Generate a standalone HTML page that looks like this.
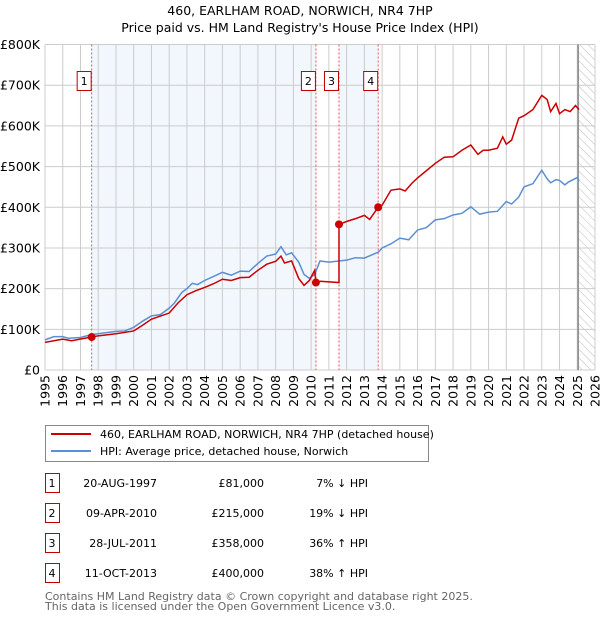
<!DOCTYPE html>
<html><head><meta charset="utf-8"><style>
body{margin:0;background:#fff;font-family:"DejaVu Sans","Liberation Sans",sans-serif;}
svg text{font-family:"DejaVu Sans","Liberation Sans",sans-serif;}
</style></head><body>
<svg width="600" height="620" viewBox="0 0 600 620">
<defs><pattern id="hatch" width="6" height="6" patternUnits="userSpaceOnUse" patternTransform="rotate(-45)"><line x1="0" y1="0" x2="0" y2="6" stroke="#bbb" stroke-width="1"/></pattern></defs>
<text x="300" y="15" text-anchor="middle" font-size="12.5">460, EARLHAM ROAD, NORWICH, NR4 7HP</text>
<text x="300" y="32" text-anchor="middle" font-size="12.5">Price paid vs. HM Land Registry's House Price Index (HPI)</text>
<g id="plot"></g>
<g>
<rect x="45.5" y="425.5" width="383" height="36" fill="#fff" stroke="#888"/>
<line x1="51" y1="434" x2="91" y2="434" stroke="#cc0000" stroke-width="2"/>
<text x="100" y="438" font-size="11">460, EARLHAM ROAD, NORWICH, NR4 7HP (detached house)</text>
<line x1="51" y1="451" x2="91" y2="451" stroke="#5b8fd4" stroke-width="2"/>
<text x="100" y="455" font-size="11">HPI: Average price, detached house, Norwich</text>
</g>
<g id="table" font-size="11"></g>
<text x="45" y="600" font-size="11" fill="#666">Contains HM Land Registry data © Crown copyright and database right 2025.</text>
<text x="45" y="610" font-size="11" fill="#666">This data is licensed under the Open Government Licence v3.0.</text>
</svg>
<script>
const hpiYears=[1995,1995.5,1996,1996.3,1997,1997.6,1998,1999,1999.5,2000,2000.5,2001,2001.5,2002,2002.3,2002.7,2003,2003.3,2003.6,2004,2004.5,2005,2005.5,2006,2006.5,2007,2007.5,2008,2008.3,2008.6,2008.9,2009.3,2009.6,2009.9,2010.2,2010.5,2011,2012,2012.5,2013,2013.8,2014,2014.5,2015,2015.5,2016,2016.5,2017,2017.5,2018,2018.5,2019,2019.5,2020,2020.5,2021,2021.3,2021.7,2022,2022.5,2023,2023.3,2023.5,2023.8,2024,2024.3,2024.5,2025,2025.1];
const hpiValues=[74,82,82,78,80,87,89,95,96,105,120,133,136,152,165,190,200,213,210,220,230,240,233,243,242,262,280,285,303,283,288,265,235,225,235,268,265,270,276,275,290,300,310,324,320,344,350,369,372,381,385,401,383,388,390,414,408,425,450,458,491,470,460,468,466,455,462,473,465];
const redYears=[1995,1996,1996.5,1997.63,1998,1999,2000,2000.5,2001,2002,2002.5,2003,2003.5,2004,2004.5,2005,2005.5,2006,2006.5,2007,2007.5,2008,2008.3,2008.5,2008.9,2009.3,2009.6,2009.9,2010.2,2010.27,2010.5,2011.57,2011.57,2012,2012.5,2013,2013.3,2013.78,2014,2014.5,2015,2015.3,2015.7,2016,2016.5,2017,2017.5,2018,2018.5,2019,2019.4,2019.7,2020,2020.5,2020.8,2021,2021.3,2021.7,2022,2022.5,2023,2023.3,2023.5,2023.8,2024,2024.3,2024.6,2024.9,2025.1];
const redValues=[68,76,72,81,84,89,96,110,125,140,165,185,195,203,212,223,220,227,228,245,260,267,280,263,268,225,208,220,245,215,218,215,358,365,372,380,370,400,405,442,445,440,460,472,490,508,523,524,540,553,530,540,540,545,573,555,565,619,625,640,675,665,635,655,630,640,635,650,640];
const saleLabels=["1","2","3","4"];
const saleYears=[1997.63,2010.27,2011.57,2013.78];
const salePrices=[81,215,358,400];
const saleDates=["20-AUG-1997","09-APR-2010","28-JUL-2011","11-OCT-2013"];
const salePriceText=["£81,000","£215,000","£358,000","£400,000"];
const saleHpiText=["7% ↓ HPI","19% ↓ HPI","36% ↑ HPI","38% ↑ HPI"];
const yTicks=[0,100,200,300,400,500,600,700,800];
const yTickLabels=["£0","£100K","£200K","£300K","£400K","£500K","£600K","£700K","£800K"];
const xTicks=[1995,1996,1997,1998,1999,2000,2001,2002,2003,2004,2005,2006,2007,2008,2009,2010,2011,2012,2013,2014,2015,2016,2017,2018,2019,2020,2021,2022,2023,2024,2025,2026];
const forecastStart=2025.05;

const X0=45,X1=595,Y0=370,Y1=44.5;
const x=v=>X0+(v-1995)/(2026-1995)*(X1-X0);
const y=v=>Y0-v/800*(Y0-Y1);
const NS="http://www.w3.org/2000/svg";
function mk(tag,attrs,parent){const e=document.createElementNS(NS,tag);for(const k in attrs)e.setAttribute(k,attrs[k]);parent.appendChild(e);return e;}
const g=document.getElementById('plot');
// bands
let b=mk('rect',{x:x(saleYears[0]),y:Y1,width:x(saleYears[1])-x(saleYears[0]),height:Y0-Y1,fill:'#eef3fc',opacity:0.75},g);


b=mk('rect',{x:x(saleYears[2]),y:Y1,width:x(saleYears[3])-x(saleYears[2]),height:Y0-Y1,fill:'#eef3fc',opacity:0.75},g);


let h=mk('rect',{x:x(forecastStart),y:Y1,width:X1-x(forecastStart),height:Y0-Y1,fill:'url(#hatch)'},g);


// grid
xTicks.forEach(t=>{const l=mk('line',{x1:x(t),x2:x(t),y1:Y1,y2:Y0,stroke:'#ccc','stroke-width':1},g);


const tx=mk('text',{x:0,y:0,'font-size':12.5,'text-anchor':'end',transform:`translate(${x(t)+4.5},375) rotate(-90)`},g);tx.textContent=t;

});
yTicks.forEach((t,i)=>{const l=mk('line',{x1:X0,x2:X1,y1:y(t),y2:y(t),stroke:'#ccc','stroke-width':1},g);


const tx=mk('text',{x:40,y:y(t)+4.5,'font-size':12.5,'text-anchor':'end'},g);tx.textContent=yTickLabels[i];

});
const fl=mk('line',{x1:x(forecastStart),x2:x(forecastStart),y1:Y1,y2:Y0,stroke:'#888','stroke-width':1.5},g);


// sale vlines and labels
saleYears.forEach((s,i)=>{const l=mk('line',{x1:x(s),x2:x(s),y1:Y1,y2:Y0,stroke:'#e05555','stroke-dasharray':'2,2','stroke-width':1},g);


const r=mk('rect',{x:x(s)-14.5,y:71.5,width:14,height:19,fill:'#fff',stroke:'#c00000'},g);


const t=mk('text',{x:x(s)-7.5,y:85,'font-size':11,'text-anchor':'middle'},g);t.textContent=saleLabels[i];

});
// lines
const hp=mk('polyline',{points:hpiYears.map((v,i)=>x(v)+','+y(hpiValues[i])).join(' '),fill:'none',stroke:'#5b8fd4','stroke-width':1.5},g);


const rp=mk('polyline',{points:redYears.map((v,i)=>x(v)+','+y(redValues[i])).join(' '),fill:'none',stroke:'#cc0000','stroke-width':1.5},g);


saleYears.forEach((s,i)=>{const c=mk('circle',{cx:x(s),cy:y(salePrices[i]),r:4,fill:'#cc0000'},g);

});
// table
const tb=document.getElementById('table');
saleYears.forEach((s,i)=>{const yy=483+i*30;
const r=mk('rect',{x:45.5,y:yy-9.5,width:14,height:19,fill:'#fff',stroke:'#c00000'},tb);


const cells=[[52,'middle',saleLabels[i]],[157,'end',saleDates[i]],[264,'end',salePriceText[i]],[368,'end',saleHpiText[i]]];
cells.forEach(c=>{const t=mk('text',{x:c[0],y:yy+4,'text-anchor':c[1]},tb);t.textContent=c[2];

});});
</script>
</body></html>
